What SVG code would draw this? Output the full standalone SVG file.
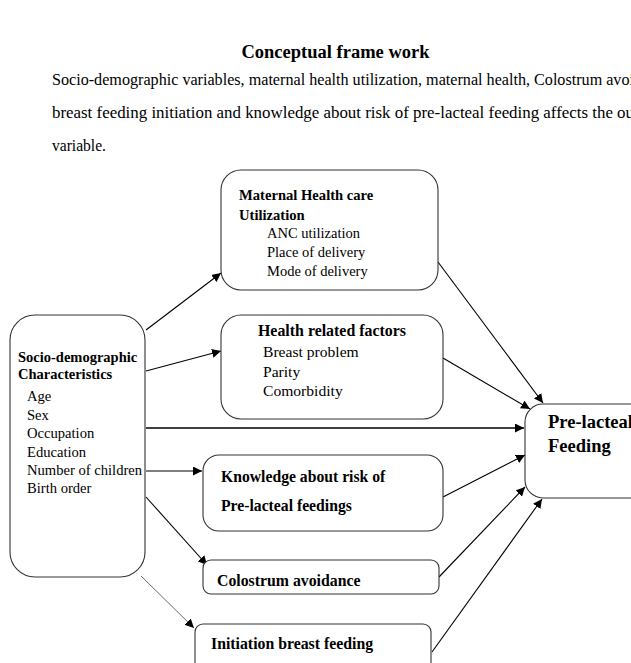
<svg xmlns="http://www.w3.org/2000/svg" width="631" height="663" viewBox="0 0 631 663">
<style>
text{font-family:"Liberation Serif","Times New Roman",serif;fill:#000}
.b{font-weight:bold}
.box{fill:#fff;stroke:#333;stroke-width:1.1}
.c{stroke:#000;stroke-width:1.1;fill:none;marker-end:url(#ah)}
</style>
<defs>
<marker id="ah" viewBox="0 0 10 10" refX="10" refY="5" markerWidth="9" markerHeight="9" markerUnits="userSpaceOnUse" orient="auto">
<path d="M0,0 L10,5 L0,10 z" fill="#000"/>
</marker>
</defs>
<rect width="631" height="663" fill="#fff"/>
<g id="header">
<text class="b" x="335.5" y="58" font-size="18.5" text-anchor="middle">Conceptual frame work</text>
<text x="52" y="85" font-size="16.5" textLength="582" lengthAdjust="spacingAndGlyphs">Socio-demographic variables, maternal health utilization, maternal health, Colostrum avoi</text>
<text x="52" y="118" font-size="16.5" textLength="582" lengthAdjust="spacingAndGlyphs">breast feeding initiation and knowledge about risk of pre-lacteal feeding affects the ou</text>
<text x="52" y="151" font-size="16.5" textLength="54" lengthAdjust="spacingAndGlyphs">variable.</text>
</g>
<g id="connectors">
<line class="c" x1="146" y1="330" x2="221" y2="273"/>
<line class="c" x1="146" y1="371" x2="221" y2="351"/>
<line class="c" x1="146" y1="428" x2="524" y2="428" style="stroke-width:1.5"/>
<line class="c" x1="146" y1="471" x2="202" y2="471"/>
<line class="c" x1="146" y1="497" x2="207" y2="565"/>
<line class="c" x1="141" y1="576" x2="194" y2="628" style="stroke:#444;stroke-width:0.8"/>
<line class="c" x1="438" y1="262" x2="543" y2="403"/>
<line class="c" x1="443" y1="358" x2="530" y2="409"/>
<line class="c" x1="443" y1="497" x2="525" y2="455"/>
<line class="c" x1="439" y1="577" x2="525" y2="487"/>
<line class="c" x1="432" y1="652" x2="542" y2="499"/>
</g>
<g id="maternal">
<rect class="box" x="221" y="170" width="217" height="120" rx="20"/>
<text class="b" x="239" y="200" font-size="14.6">Maternal Health care</text>
<text class="b" x="239" y="220" font-size="14.6">Utilization</text>
<text x="267" y="238" font-size="14.5">ANC utilization</text>
<text x="267" y="257" font-size="14.5">Place of delivery</text>
<text x="267" y="276" font-size="14.5">Mode of delivery</text>
</g>
<g id="health">
<rect class="box" x="221" y="315" width="222" height="104" rx="20"/>
<text class="b" x="258" y="336" font-size="15.9">Health related factors</text>
<text x="263" y="357" font-size="15.6">Breast problem</text>
<text x="263" y="377" font-size="15.6">Parity</text>
<text x="263" y="396" font-size="15.6">Comorbidity</text>
</g>
<g id="socio">
<rect class="box" x="10" y="315" width="135" height="262" rx="25"/>
<text class="b" x="18" y="362" font-size="14.5">Socio-demographic</text>
<text class="b" x="18" y="379" font-size="14.5">Characteristics</text>
<text x="27" y="401" font-size="14.6">Age</text>
<text x="27" y="420" font-size="14.6">Sex</text>
<text x="27" y="438" font-size="14.6">Occupation</text>
<text x="27" y="457" font-size="14.6">Education</text>
<text x="27" y="475" font-size="14.6">Number of children</text>
<text x="27" y="493" font-size="14.6">Birth order</text>
</g>
<g id="knowledge">
<rect class="box" x="203" y="455" width="240" height="76" rx="16"/>
<text class="b" x="221" y="482" font-size="15.7">Knowledge about risk of</text>
<text class="b" x="221" y="511" font-size="15.7">Pre-lacteal feedings</text>
</g>
<g id="colostrum">
<rect class="box" x="203" y="560" width="236" height="34" rx="8"/>
<text class="b" x="217" y="586" font-size="15.8">Colostrum avoidance</text>
</g>
<g id="initiation">
<rect class="box" x="195" y="624" width="236" height="50" rx="8"/>
<text class="b" x="211" y="649" font-size="15.8">Initiation breast feeding</text>
</g>
<g id="prelacteal">
<rect class="box" x="525" y="404" width="130" height="94" rx="18"/>
<text class="b" x="548" y="428" font-size="18.5">Pre-lacteal</text>
<text class="b" x="548" y="452" font-size="18.5">Feeding</text>
</g>
</svg>
